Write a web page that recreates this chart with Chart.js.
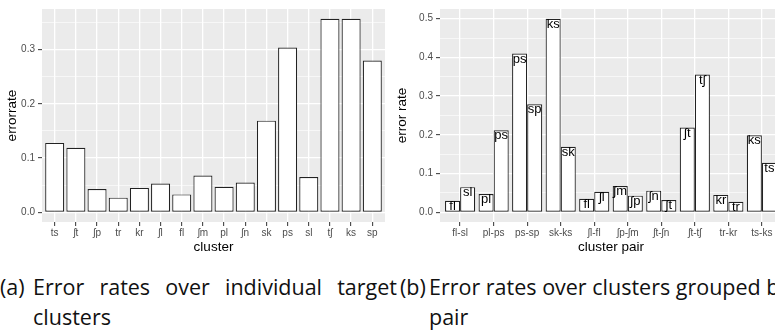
<!DOCTYPE html>
<html>
<head>
<meta charset="utf-8">
<script src="https://cdn.jsdelivr.net/npm/chart.js@4.4.1/dist/chart.umd.min.js"></script>
<style>
  body { margin: 0; width: 775px; height: 333px; overflow: hidden; position: relative; background: #fff; }
  canvas { position: absolute; top: 0; }
  #chartA { left: 0; }
  #chartB { left: 390px; }
  .cap { position: absolute; top: 272px; font-family: "Open Sans", sans-serif; font-size: 21.5px; line-height: 30px; color: #111; white-space: nowrap; }
  .cap .tag { position: absolute; left: 0; top: 0; }
  .cap .txt { position: absolute; top: 0; }
  .cap .just { text-align: justify; text-align-last: justify; white-space: normal; }
</style>
</head>
<body>
<canvas id="chartA" width="390" height="256"></canvas>
<canvas id="chartB" width="397" height="256"></canvas>

<div class="cap" style="left:0;width:399px;height:61px;">
  <span class="tag">(a)</span>
  <div class="txt" style="left:33px;width:364px;">
    <div class="just">Error rates over individual target</div>
    <div>clusters</div>
  </div>
</div>
<div class="cap" style="left:400px;width:375px;overflow:hidden;height:61px;">
  <span class="tag">(b)</span>
  <div class="txt" style="left:29px;">
    <div>Error rates over clusters grouped by cluster</div>
    <div>pair</div>
  </div>
</div>

<script>
// error rate per target cluster
var clusters = ['ts', 'ʃt', 'ʃp', 'tr', 'kr', 'ʃl', 'fl', 'ʃm', 'pl', 'ʃn', 'sk', 'ps', 'sl', 'tʃ', 'ks', 'sp'];
var errorRates = [0.128, 0.119, 0.043, 0.027, 0.045, 0.053, 0.033, 0.068, 0.047, 0.055, 0.169, 0.304, 0.065, 0.357, 0.357, 0.280];
var yTicksA = [0, 0.1, 0.2, 0.3];

// error rate per cluster pair (first / second bar of each pair)
var pairs = ['fl-sl', 'pl-ps', 'ps-sp', 'sk-ks', 'ʃl-fl', 'ʃp-ʃm', 'ʃt-ʃn', 'ʃt-tʃ', 'tr-kr', 'ts-ks'];
var firstNames = ['fl', 'pl', 'ps', 'ks', 'fl', 'ʃm', 'ʃn', 'ʃt', 'kr', 'ks'];
var firstRates = [0.030, 0.047, 0.410, 0.500, 0.035, 0.068, 0.056, 0.219, 0.045, 0.199];
var secondNames = ['sl', 'ps', 'sp', 'sk', 'ʃl', 'ʃp', 'ʃt', 'tʃ', 'tr', 'ts'];
var secondRates = [0.065, 0.212, 0.279, 0.169, 0.053, 0.043, 0.032, 0.356, 0.027, 0.128];
var yTicksB = [0, 0.1, 0.2, 0.3, 0.4, 0.5];

var sans = '"Liberation Sans", Arial, sans-serif';

// grey panel behind the grid
var panelBg = {
    id: 'panelBg',
    beforeDraw: function (chart) {
        var a = chart.chartArea, ctx = chart.ctx;
        ctx.save();
        ctx.fillStyle = '#EBEBEB';
        ctx.fillRect(a.left, a.top, a.right - a.left, a.bottom - a.top);
        ctx.restore();
    }
};

// names written at the top of each bar
var barNames = {
    id: 'barNames',
    afterDatasetsDraw: function (chart, args, opts) {
        if (!opts.names) return;
        var ctx = chart.ctx;
        ctx.save();
        ctx.font = '13px ' + sans;
        ctx.fillStyle = '#000';
        ctx.textAlign = 'center';
        ctx.textBaseline = 'top';
        opts.names.forEach(function (names, d) {
            chart.getDatasetMeta(d).data.forEach(function (bar, i) {
                ctx.fillText(names[i], bar.x, bar.y - 1);
            });
        });
        ctx.restore();
    }
};

function withMinor(majors) {
    var t = [];
    majors.forEach(function (v, i) {
        t.push({ value: v });
        t.push({ value: v + (majors[1] - majors[0]) / 2 });
    });
    return t;
}

function makeOptions(names, xTitle, yTitle, yMajors, yMax, axisWidth) {
    return {
        responsive: false,
        animation: false,
        devicePixelRatio: 1,
        layout: { padding: { top: 4, right: 5, left: 0, bottom: 0 } },
        plugins: {
            legend: { display: false },
            tooltip: { enabled: false },
            barNames: { names: names }
        },
        scales: {
            x: {
                type: 'linear',
                min: -0.6,
                max: names ? pairs.length - 0.4 : clusters.length - 0.4,
                offset: false,
                afterBuildTicks: function (s) {
                    var n = names ? pairs : clusters;
                    s.ticks = n.map(function (c, i) { return { value: i }; });
                },
                afterFit: function (s) { s.height = 34; },
                grid: { offset: false, color: '#fff', lineWidth: 1.3, tickLength: 4, tickColor: '#333', tickWidth: 1 },
                border: { display: false },
                ticks: {
                    autoSkip: false, maxRotation: 0, padding: 1,
                    color: '#4D4D4D', font: { family: sans, size: 10 },
                    callback: function (v, i) { return (names ? pairs : clusters)[i]; }
                },
                title: { display: true, text: xTitle, color: '#000', font: { family: sans, size: 13.5 }, padding: { top: 0, bottom: 1 } }
            },
            y: {
                min: -0.05 * yMax,
                max: 1.05 * yMax,
                afterBuildTicks: function (s) {
                    s.ticks = withMinor(yMajors).filter(function (t) { return t.value <= 1.05 * yMax; });
                },
                afterFit: function (s) { s.width = axisWidth; },
                grid: {
                    color: '#fff',
                    lineWidth: function (c) { return c.index % 2 === 0 ? 1.3 : 0.6; },
                    tickLength: 4,
                    tickColor: function (c) { return c.index % 2 === 0 ? '#333' : 'rgba(0,0,0,0)'; },
                    tickWidth: 1
                },
                border: { display: false },
                ticks: {
                    padding: 3, color: '#4D4D4D', font: { family: sans, size: 10 },
                    callback: function (v, i) { return i % 2 === 0 ? v.toFixed(1) : ''; }
                },
                title: { display: true, text: yTitle, color: '#000', font: { family: sans, size: 13.5 }, padding: { top: 4.5, bottom: 0 } }
            }
        }
    };
}

var barStyle = {
    backgroundColor: '#fff',
    borderColor: '#222',
    borderWidth: 1.2,
    borderSkipped: false,
    categoryPercentage: 0.9,
    barPercentage: 1
};

new Chart(document.getElementById('chartA'), {
    type: 'bar',
    data: {
        datasets: [Object.assign({
            data: clusters.map(function (c, i) { return { x: i, y: errorRates[i] }; })
        }, barStyle)]
    },
    options: makeOptions(null, 'cluster', 'errorrate', yTicksA, Math.max.apply(null, errorRates), 42),
    plugins: [panelBg, barNames]
});

new Chart(document.getElementById('chartB'), {
    type: 'bar',
    data: {
        datasets: [
            Object.assign({ data: pairs.map(function (p, i) { return { x: i, y: firstRates[i] }; }) }, barStyle),
            Object.assign({ data: pairs.map(function (p, i) { return { x: i, y: secondRates[i] }; }) }, barStyle)
        ]
    },
    options: makeOptions([firstNames, secondNames], 'cluster pair', 'error rate', yTicksB,
        Math.max(Math.max.apply(null, firstRates), Math.max.apply(null, secondRates)), 50),
    plugins: [panelBg, barNames]
});
</script>
</body>
</html>
